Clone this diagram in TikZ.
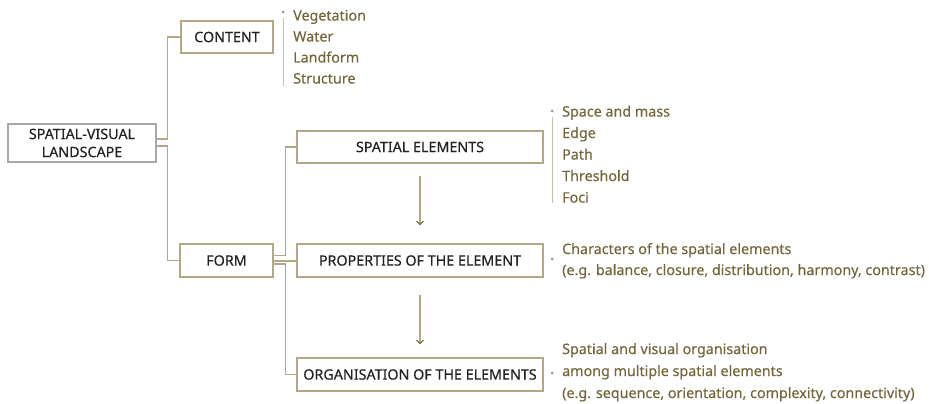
\documentclass[tikz,border=0pt]{standalone}
\usepackage{fontspec}
\setmainfont{Noto Sans}[FakeBold=0.35]
\usetikzlibrary{arrows.meta}
\definecolor{linec}{HTML}{B3A786}
\definecolor{textc}{HTML}{73663A}
\definecolor{boxgray}{HTML}{A8A8A8}
\definecolor{dark}{HTML}{222222}
\tikzset{
  box/.style={draw=linec, line width=1.1pt, inner sep=0pt, text=dark,
    font=\fontsize{14.3}{18}\selectfont, align=center},
  item/.style={anchor=base west, inner sep=0pt, text=textc, font=\fontsize{14.3}{17}\selectfont},
  conn/.style={draw=linec, line width=1.1pt},
  flow/.style={draw=linec, line width=1.1pt, -{Straight Barb[color=textc, length=3.5pt, width=7pt, line width=1.1pt]}},
  bar/.style={draw=linec!70, line width=0.8pt},
  dotm/.style={fill=textc!70, circle, inner sep=0pt, minimum size=3pt}
}
\begin{document}
\begin{tikzpicture}[x=1pt, y=-1pt]
\useasboundingbox (0,0) rectangle (929,404);
% boxes
\node[box, draw=boxgray, minimum width=148pt, minimum height=38pt] (svl) at (82,143) {SPATIAL-VISUAL\\LANDSCAPE};
\node[box, minimum width=92pt, minimum height=32pt] (content) at (227,37) {CONTENT};
\node[box, minimum width=93pt, minimum height=33pt] (form) at (226.5,260.5) {FORM};
\node[box, minimum width=246pt, minimum height=32pt] (spatial) at (420,147) {SPATIAL ELEMENTS};
\node[box, minimum width=246pt, minimum height=33pt] (props) at (420,260.5) {PROPERTIES OF THE ELEMENT};
\node[box, minimum width=246pt, minimum height=33pt] (org) at (420,374.5) {ORGANISATION OF THE ELEMENTS};
% connectors
\draw[conn] ([yshift=4pt]svl.east) -- ++(11,0) |- (content.west);
\draw[conn] ([yshift=-3pt]svl.east) -- ++(11,0) |- (form.west);
\draw[conn] ([yshift=5pt]form.east) -- ++(12,0) |- (spatial.west);
\draw[conn] ([yshift=-0.5pt]form.east) -- ([yshift=-0.5pt]props.west);
\draw[conn] ([yshift=-3.5pt]form.east) -- ++(12,0) |- (org.west);
\draw[flow] ([yshift=-12pt]spatial.south) -- ([yshift=18pt]props.north);
\draw[flow] ([yshift=-17pt]props.south) -- ([yshift=13pt]org.north);
% content list
\node[dotm] (cd) at (283,12) {};
\coordinate (cb1) at (283,18);
\coordinate (cb2) at (283,86);
\draw[bar] (cb1) -- (cb2);
\node[item] (c1) at (293,20.5) {Vegetation};
\node[item] (c2) at (293,41.5) {Water};
\node[item] (c3) at (293,62.5) {Landform};
\node[item] (c4) at (293,83.5) {Structure};
% spatial list
\node[dotm] (sd) at (552,111) {};
\coordinate (sb1) at (552,117);
\coordinate (sb2) at (552,203);
\draw[bar] (sb1) -- (sb2);
\node[item] (s1) at (562,116.5) {Space and mass};
\node[item] (s2) at (562,138) {Edge};
\node[item] (s3) at (562,159.5) {Path};
\node[item] (s4) at (562,181) {Threshold};
\node[item] (s5) at (562,202.5) {Foci};
% properties text
\node[dotm] (pd) at (552,259) {};
\node[item] (p1) at (562,254) {Characters of the spatial elements};
\node[item] (p2) at (562,275) {(e.g. balance, closure, distribution, harmony, contrast)};
% organisation text
\node[dotm] (od) at (552,373) {};
\node[item] (o1) at (562,354) {Spatial and visual organisation};
\node[item] (o2) at (562,376) {among multiple spatial elements};
\node[item] (o3) at (562,398) {(e.g. sequence, orientation, complexity, connectivity)};
\end{tikzpicture}
\end{document}
